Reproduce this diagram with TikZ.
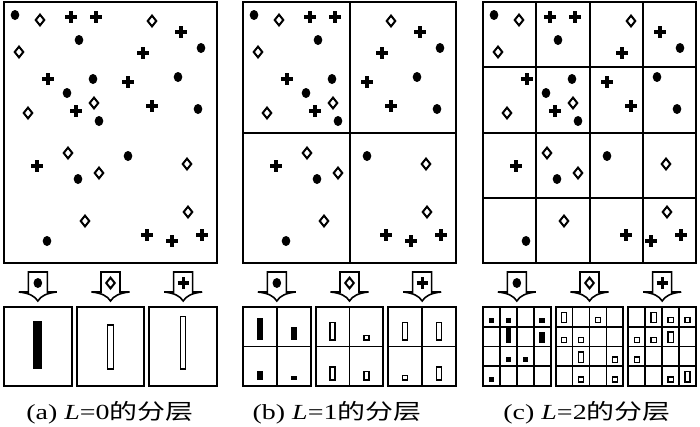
\documentclass[tikz,border=0pt]{standalone}
\usepackage{fontspec}
\setmainfont{Liberation Serif}
\newfontfamily\cjk{Noto Sans CJK SC}
\usepackage{graphicx}
\begin{document}
\begin{tikzpicture}[x=1pt,y=-1pt]
\tikzset{
 pframe/.style={draw=black, line width=2.4pt},
 pdiv/.style={draw=black, line width=2pt},
 sframe/.style={draw=black, line width=2.1pt},
 sdiv/.style={draw=black, line width=1.6pt},
 solidbar/.style={fill=black},
 openbar/.style={draw=black, fill=white, line width=1.4pt},
 arrowbox/.style={draw=black, fill=white, line width=1.6pt, line join=miter},
 captext/.style={font=\fontsize{21.5}{26}\selectfont, inner sep=0pt, anchor=base},
 dotm/.pic={\fill (0,0) ellipse [x radius=4.3pt, y radius=5pt];},
 diam/.pic={\draw[line width=2pt, fill=white] (0,-5.4)--(4.3,0)--(0,5.4)--(-4.3,0)--cycle;},
 plusm/.pic={\draw[line width=3.2pt] (-5.6,0)--(5.6,0) (0,-5.6)--(0,5.6);}
}
\useasboundingbox (0,0) rectangle (700,426);
\fill[white] (0,0) rectangle (700,426);
\newcommand\allpoints{%
 \foreach \p/\q in {15/15, 79/40, 201/48, 93/79, 178/77, 67/93, 198/109, 99/121, 128/156, 78/179, 47/241}
   {\pic at (\p,\q) {dotm};}
 \foreach \p/\q in {40/20, 152/21, 19/52, 94/103, 28/113, 68/153, 99/173, 187/164, 188/212, 85/221}
   {\pic at (\p,\q) {diam};}
 \foreach \p/\q in {71/17, 96/17, 181/32, 143/53, 48/79, 128/82, 76/111, 152/106, 37/166, 147/235, 172/241, 202/235}
   {\pic at (\p,\q) {plusm};}
}
% big panels with points
\foreach \s in {0,239,479} {
  \begin{scope}[shift={(\s,0)}]
    \allpoints
  \end{scope}
}
% panel (b) dividers
\draw[pdiv] (349.5,2) -- (349.5,263) (243,132.5) -- (456,132.5);
% panel (c) dividers
\foreach \k in {1,2,3} {
  \draw[pdiv] ({483+53.25*\k},2) -- ({483+53.25*\k},263);
  \draw[pdiv] (483,{2+65.25*\k}) -- (696,{2+65.25*\k});
}
\foreach \L in {4,243,483} {
  \draw[pframe] (\L,2) rectangle ({\L+213},263);
}
% arrows and small boxes
\foreach \L in {4,243,483} {
  \foreach \k/\sym in {0/dotm,1/diam,2/plusm} {
    \pgfmathsetmacro\bx{\L+72.67*\k}
    \pgfmathsetmacro\cx{\bx+33.83}
    \draw[arrowbox] ({\cx-9.5},272) -- ({\cx-9.5},292) -- ({\cx-19},292)
      .. controls ({\cx-9},293) and ({\cx-3},296) .. (\cx,301)
      .. controls ({\cx+3},296) and ({\cx+9},293) .. ({\cx+19},292)
      -- ({\cx+9.5},292) -- ({\cx+9.5},272) -- cycle;
    \pic at (\cx,283) {\sym};
    \draw[sframe] (\bx,307) rectangle ({\bx+67.67},386);
  }
}
% (a) bars
\path[solidbar] (33.3,369) rectangle (42.3,320.6);
\path[openbar] (107.5,369) rectangle (113.5,325);
\path[openbar] (180.7,369) rectangle (185.7,316.2);
% (b) grids and bars
\foreach \k in {0,1,2} {
  \pgfmathsetmacro\bx{243+72.67*\k}
  \draw[sdiv] ({\bx+33.83},307) -- ({\bx+33.83},386) (\bx,346.5) -- ({\bx+67.67},346.5);
}
\foreach \c/\r/\n in {1/1/5, 2/1/3, 1/2/2, 2/2/1} {
  \pgfmathsetmacro\xc{243+16.9+33.83*(\c-1)}
  \pgfmathsetmacro\yb{340+40*(\r-1)}
  \path[solidbar] ({\xc-3},\yb) rectangle ({\xc+3},{\yb-4.4*\n});
}
\foreach \k/\sty/\data in {1/openbar/{1/1/4, 2/1/1, 1/2/3, 2/2/2}, 2/openbar/{1/1/4, 2/1/4, 1/2/1, 2/2/3}} {
  \foreach \c/\r/\n in \data {
    \pgfmathsetmacro\xc{243+72.67*\k+16.9+33.83*(\c-1)}
    \pgfmathsetmacro\yb{340+40*(\r-1)}
    \path[\sty] ({\xc-2.5},\yb) rectangle ({\xc+2.5},{\yb-4.4*\n});
  }
}
% (c) grids and bars
\foreach \k in {0,1,2} {
  \pgfmathsetmacro\bx{483+72.67*\k}
  \foreach \j in {1,2,3} {
    \draw[sdiv] ({\bx+16.92*\j},307) -- ({\bx+16.92*\j},386);
    \draw[sdiv] (\bx,{307+19.75*\j}) -- ({\bx+67.67},{307+19.75*\j});
  }
}
\foreach \c/\r/\n in {1/1/1, 2/1/1, 4/1/1, 2/2/3, 4/2/2, 2/3/1, 3/3/1, 1/4/1} {
  \pgfmathsetmacro\xc{483+8.46+16.92*(\c-1)}
  \pgfmathsetmacro\yb{307+19.75*\r-4}
  \path[solidbar] ({\xc-2.8},\yb) rectangle ({\xc+2.8},{\yb-5.2*\n});
}
\foreach \k/\data in {1/{1/1/2, 3/1/1, 1/2/1, 2/2/1, 2/3/2, 4/3/1, 2/4/1, 4/4/1}, 2/{2/1/2, 3/1/1, 4/1/1, 1/2/1, 2/2/1, 3/2/2, 1/3/1, 3/4/1, 4/4/2}} {
  \foreach \c/\r/\n in \data {
    \pgfmathsetmacro\xc{483+72.67*\k+8.46+16.92*(\c-1)}
    \pgfmathsetmacro\yb{307+19.75*\r-4}
    \path[openbar] ({\xc-2.6},\yb) rectangle ({\xc+2.6},{\yb-5.2*\n});
  }
}
% captions
\node[captext] (capa) at (110,419) {\scalebox{1.3}[1]{(a) \textit{L}=0{\cjk 的分层}}};
\node[captext] (capb) at (337,419) {\scalebox{1.3}[1]{(b) \textit{L}=1{\cjk 的分层}}};
\node[captext] (capc) at (587,419) {\scalebox{1.3}[1]{(c) \textit{L}=2{\cjk 的分层}}};
\end{tikzpicture}
\end{document}
